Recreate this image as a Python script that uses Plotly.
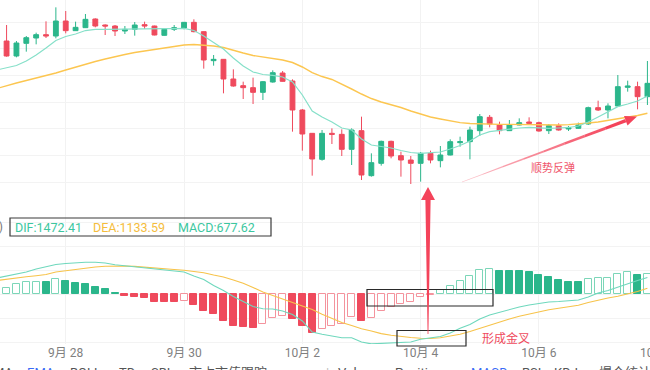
import plotly.graph_objects as go
from plotly.subplots import make_subplots
import pandas as pd
import math

# ---------------- data (4h candles, 2023-09-26 20:00 ... 2023-10-07 20:00) ----------------
times = pd.date_range("2023-09-26 20:00", periods=67, freq="4h")

open_ = [27385, 27715, 27490, 27680, 27760, 27810, 27790,
         28015, 27870, 27915, 28045, 27955, 27940, 27865, 27890, 27960, 27940,
         27800, 27890, 27910, 27995, 27855, 27420, 27440, 27145, 27045, 27015,
         26945, 27100, 27235, 27115, 26680, 26330, 25940, 26330, 26315, 26090,
         26370, 25695, 25880, 26210, 25995, 25930, 25880, 26030, 25920, 26005,
         26190, 26205, 26370, 26570, 26455, 26370, 26455, 26500, 26490, 26370,
         26445, 26395, 26405, 26470, 26715, 26680, 26740, 27020, 27030, 26880]
high = [27730, 27955, 27715, 27790, 27840, 28010, 28220,
        28165, 28005, 28120, 28055, 27965, 27955, 27940, 28000, 28005, 27945,
        27895, 27955, 28000, 28040, 27860, 27505, 27445, 27290, 27105, 27165,
        27115, 27275, 27265, 27140, 26695, 26335, 26380, 26405, 26390, 26405,
        26580, 26030, 26220, 26220, 26055, 25990, 26050, 26070, 26140, 26240,
        26280, 26430, 26620, 26605, 26505, 26530, 26555, 26570, 26505, 26470,
        26480, 26440, 26490, 26730, 26820, 26780, 27205, 27120, 27105, 27415]
low = [27355, 27480, 27470, 27555, 27665, 27760, 27755,
       27830, 27865, 27910, 27920, 27805, 27790, 27820, 27795, 27895, 27800,
       27795, 27865, 27890, 27845, 27300, 27345, 26930, 27030, 26845, 26770,
       26830, 27090, 27105, 26355, 26070, 25695, 25920, 26170, 25990, 25855,
       25630, 25680, 25845, 25955, 25680, 25570, 25605, 25880, 25820, 26000,
       26130, 25940, 26290, 26420, 26315, 26365, 26450, 26470, 26355, 26320,
       26370, 26365, 26400, 26455, 26665, 26555, 26735, 26955, 26690, 26755]
close = [27700, 27490, 27685, 27765, 27810, 27790, 28015,
         27870, 27920, 28040, 27940, 27940, 27865, 27890, 27955, 27940, 27805,
         27890, 27915, 27995, 27855, 27430, 27440, 27145, 27040, 27015, 26945,
         27105, 27240, 27110, 26680, 26320, 25945, 26330, 26315, 26090, 26380,
         25705, 25890, 26210, 25990, 25930, 25880, 26030, 25930, 26005, 26205,
         26205, 26380, 26580, 26470, 26370, 26455, 26490, 26480, 26365, 26445,
         26380, 26415, 26455, 26715, 26680, 26740, 27030, 27040, 26880, 27080]

ma_fast = [27280, 27310, 27348, 27415, 27505, 27610, 27722,
           27782, 27820, 27872, 27888, 27890, 27890, 27890, 27892, 27894, 27895,
           27900, 27902, 27905, 27872, 27790, 27692, 27595, 27460, 27340, 27250,
           27212, 27198, 27175, 27100, 26905, 26665, 26575, 26500, 26410, 26380,
           26245, 26155, 26132, 26110, 26072, 26042, 26028, 26035, 26050, 26095,
           26148, 26215, 26305, 26355, 26375, 26395, 26410, 26418, 26410, 26405,
           26410, 26418, 26440, 26500, 26575, 26650, 26730, 26770, 26815, 26890]
ma_slow = [27002, 27048, 27085, 27122, 27160, 27190, 27235,
           27280, 27325, 27362, 27408, 27445, 27482, 27512, 27542, 27565, 27595,
           27610, 27632, 27655, 27662, 27652, 27640, 27618, 27572, 27535, 27498,
           27475, 27460, 27430, 27392, 27325, 27242, 27182, 27138, 27070, 26995,
           26920, 26852, 26800, 26762, 26718, 26665, 26617, 26575, 26545, 26515,
           26490, 26478, 26470, 26467, 26465, 26464, 26461, 26455, 26455, 26455,
           26455, 26461, 26470, 26485, 26500, 26522, 26545, 26568, 26598, 26632]

dif = [800, 900, 1000, 1100, 1250, 1375, 1475,
       1525, 1565, 1585, 1585, 1550, 1465, 1410, 1365, 1310, 1260,
       1215, 1165, 1100, 900, 725, 425, 175, -125, -375, -625,
       -735, -750, -850, -1025, -1350, -1900, -2015, -2100, -2185, -2185,
       -2400, -2495, -2465, -2450, -2430, -2400, -2265, -2200, -2125, -1950,
       -1715, -1525, -1250, -1050, -915, -800, -650, -550, -460, -400,
       -375, -340, -300, -150, 50, 175, 350, 535, 675, 825]
dea = [675, 725, 800, 860, 915, 975, 1100,
       1165, 1235, 1300, 1350, 1385, 1410, 1400, 1380, 1350, 1310,
       1275, 1225, 1185, 1140, 1065, 950, 850, 700, 535, 325,
       100, -75, -250, -425, -565, -775, -1015, -1225, -1425, -1575,
       -1735, -1850, -1980, -2065, -2130, -2175, -2215, -2225, -2190, -2100,
       -2015, -1875, -1715, -1550, -1385, -1250, -1115, -1000, -875, -790,
       -715, -635, -560, -425, -300, -200, -115, 0, 125, 285]
macd_hist = [250, 285, 485, 615, 625, 610, 735,
             650, 535, 500, 365, 235, 30, -85, -135, -215, -385,
             -415, -420, -350, -550, -835, -1015, -1335, -1585, -1665, -1715,
             -1515, -1215, -1085, -1250, -1585, -1935, -1765, -1600, -1500, -1165,
             -1350, -1215, -835, -635, -500, -385, -150, -50, 200, 415,
             650, 900, 1200, 1235, 1165, 1160, 1150, 1115, 950, 835,
             700, 615, 585, 735, 785, 790, 985, 1115, 950, 1000]

tick_dates = ["2023-09-28", "2023-09-30", "2023-10-02", "2023-10-04", "2023-10-06"]
tick_labels = ["9月 28", "9月 30", "10月 2", "10月 4", "10月 6"]
legend_texts = ["DIF:1472.41", "DEA:1133.59", "MACD:677.62"]

# ---------------- style ----------------
GREEN = "#2bb68b"
RED = "#ef4a5d"
GREEN_L = "#7cd6b8"
RED_L = "#f4939d"
TEAL_LINE = "#86e0c9"
ORANGE_LINE = "#fcc650"
FONT = "Roboto, Noto Sans CJK SC, sans-serif"

W, H = 650, 370
PH = 344            # plot-area height in px (bottom margin below)
SPLIT = 205         # px where the MACD panel starts

def px(x):
    return x / W

def py(y):
    return 1 - y / PH

fig = make_subplots(rows=2, cols=1, shared_xaxes=True, vertical_spacing=0)

fig.add_trace(go.Candlestick(
    x=times, open=open_, high=high, low=low, close=close,
    increasing=dict(line=dict(color=GREEN, width=1), fillcolor=GREEN),
    decreasing=dict(line=dict(color=RED, width=1), fillcolor=RED),
    whiskerwidth=0, hoverinfo="skip", showlegend=False), row=1, col=1)
fig.add_trace(go.Scatter(x=times, y=ma_slow, mode="lines",
                         line=dict(color=ORANGE_LINE, width=1.4), hoverinfo="skip",
                         showlegend=False), row=1, col=1)
fig.add_trace(go.Scatter(x=times, y=ma_fast, mode="lines",
                         line=dict(color=TEAL_LINE, width=1.2), hoverinfo="skip",
                         showlegend=False), row=1, col=1)

# MACD histogram: hollow when rising, filled when falling
fills, lines = [], []
for k, v in enumerate(macd_hist):
    prev = macd_hist[k - 1] if k > 0 else v - 1
    rising = v > prev
    if v >= 0:
        fills.append("white" if rising else GREEN)
        lines.append(GREEN_L if rising else GREEN)
    else:
        fills.append("white" if rising else RED)
        lines.append(RED_L if rising else RED)

fig.add_trace(go.Bar(x=times, y=macd_hist, width=10_224_000,
                     marker=dict(color=fills, line=dict(color=lines, width=1)),
                     hoverinfo="skip", showlegend=False), row=2, col=1)
fig.add_trace(go.Scatter(x=times, y=dea, mode="lines",
                         line=dict(color="#f7c34a", width=1.1), hoverinfo="skip",
                         showlegend=False), row=2, col=1)
fig.add_trace(go.Scatter(x=times, y=dif, mode="lines",
                         line=dict(color="#6fd8bd", width=1.1), hoverinfo="skip",
                         showlegend=False), row=2, col=1)

xr = ["2023-09-26 21:20", "2023-10-07 21:03"]
fig.update_xaxes(range=xr, showgrid=True, gridcolor="#f2f2f2", gridwidth=1,
                 tickvals=tick_dates, ticktext=tick_labels, showline=False,
                 zeroline=False, rangeslider_visible=False, ticks="")
fig.update_xaxes(showticklabels=False, row=1, col=1)
fig.update_xaxes(tickfont=dict(family=FONT, size=12, color="#808080"), row=2, col=1)

fig.update_yaxes(showticklabels=False, zeroline=False, showline=False,
                 gridcolor="#f3f3f3", gridwidth=1)
fig.update_yaxes(range=[28330 - 15 * SPLIT, 28330], dtick=400, tick0=0, row=1, col=1)
fig.update_yaxes(range=[(294 - PH) * 50, (294 - SPLIT) * 50], dtick=1200, tick0=0,
                 row=2, col=1)

fig.update_layout(
    width=W, height=H, margin=dict(l=0, r=0, t=0, b=H - PH),
    paper_bgcolor="white", plot_bgcolor="white", bargap=0,
    font=dict(family=FONT),
    yaxis=dict(domain=[1 - SPLIT / PH, 1]),
    yaxis2=dict(domain=[0, 1 - SPLIT / PH]),
)

shapes = []
# boxes
for (x0, y0, x1, y1, c) in [(367, 289.5, 493, 306, "#2a2a2a"),
                            (397, 330.5, 466, 346, "#2a2a2a"),
                            (10, 218, 271, 236, "#3a3a3a")]:
    shapes.append(dict(type="rect", xref="paper", yref="paper",
                       x0=px(x0), x1=px(x1), y0=py(y1), y1=py(y0),
                       line=dict(color=c, width=1.2), fillcolor="rgba(0,0,0,0)"))

def poly(points):
    return "M " + " L ".join(f"{px(a):.5f},{py(b):.5f}" for a, b in points) + " Z"

# vertical arrow (shaft tapering downward, head on top)
shapes.append(dict(type="path", xref="paper", yref="paper",
                   path=poly([(427.6, 334), (428.4, 334), (430.6, 200), (435, 200),
                              (428, 187), (421, 200), (425.4, 200)]),
                   fillcolor="#f4435a", line=dict(width=0)))

# diagonal arrow: several segments with increasing opacity
tail = (462.0, 182.0)
tip = (637.0, 116.5)
dx, dy = tip[0] - tail[0], tip[1] - tail[1]
L = math.hypot(dx, dy)
ux, uy = dx / L, dy / L
nx, ny = -uy, ux
head_len, head_half = 12.0, 5.0
base = (tip[0] - ux * head_len, tip[1] - uy * head_len)
nseg = 8
for s in range(nseg):
    t0, t1 = s / nseg, (s + 1) / nseg
    p0 = (tail[0] + (base[0] - tail[0]) * t0, tail[1] + (base[1] - tail[1]) * t0)
    p1 = (tail[0] + (base[0] - tail[0]) * t1, tail[1] + (base[1] - tail[1]) * t1)
    w0 = 0.3 + 1.4 * t0
    w1 = 0.3 + 1.4 * t1
    pts = [(p0[0] + nx * w0, p0[1] + ny * w0), (p1[0] + nx * w1, p1[1] + ny * w1),
           (p1[0] - nx * w1, p1[1] - ny * w1), (p0[0] - nx * w0, p0[1] - ny * w0)]
    shapes.append(dict(type="path", xref="paper", yref="paper", path=poly(pts),
                       fillcolor="#f4435a", opacity=0.25 + 0.75 * t1, line=dict(width=0)))
shapes.append(dict(type="path", xref="paper", yref="paper",
                   path=poly([tip, (base[0] + nx * head_half, base[1] + ny * head_half),
                              (base[0] - nx * head_half, base[1] - ny * head_half)]),
                   fillcolor="#f4435a", line=dict(width=0)))

ann = []
def text(x, y, s, color, size, xanchor="center", yanchor="middle"):
    ann.append(dict(x=px(x), y=py(y), xref="paper", yref="paper", text=s,
                    showarrow=False, xanchor=xanchor, yanchor=yanchor,
                    font=dict(family=FONT, size=size, color=color)))

text(13, 227.5, legend_texts[0], "#3cc7a0", 12.5, xanchor="left")
text(91, 227.5, legend_texts[1], "#f5bd3c", 12.5, xanchor="left")
text(176, 227.5, legend_texts[2], "#3cc7a0", 12.5, xanchor="left")
text(5, 227.5, "9)", "#777777", 12, xanchor="right")
text(553, 168, "顺势反弹", "#f0566c", 11)
text(506, 338, "形成金叉", "#ef4a5d", 12)
text(657, 353, "10月 8", "#808080", 12)

# cut-off indicator tab row at the bottom
tabs = [(3, "MA", "#555555"), (41, "EMA", "#3b6cf6"), (85, "BOLL", "#555555"),
        (127, "TD", "#555555"), (160, "SBI", "#555555"), (228, "市占市值跟踪", "#555555"),
        (290, "⌄", "#555555"), (327, "|", "#bbbbbb"), (360, "Volume", "#555555"),
        (418, "Position", "#555555"), (489, "MACD", "#3b6cf6"), (531, "RSI", "#555555"),
        (566, "KDJ", "#555555"), (625, "爆仓统计", "#555555")]
for x, s, c in tabs:
    text(x, 362.5, s, c, 13, yanchor="top")

fig.update_layout(shapes=shapes, annotations=ann)
fig.write_html("out.html",
               config={"displayModeBar": False},
               post_script="document.body.style.margin='0';document.body.style.padding='0';"
                           "document.documentElement.style.overflow='hidden';")
